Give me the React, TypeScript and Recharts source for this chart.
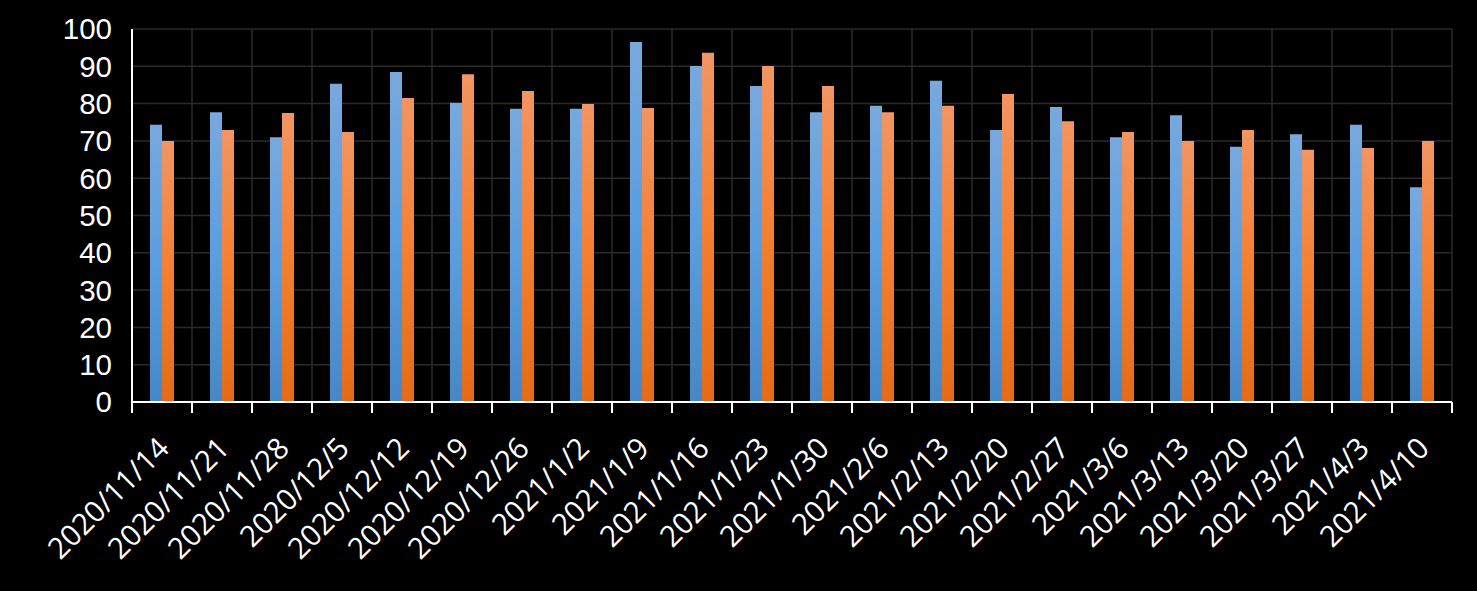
import { BarChart, Bar, XAxis, YAxis, CartesianGrid } from "recharts";

const categories = [
  "2020/11/14", "2020/11/21", "2020/11/28", "2020/12/5", "2020/12/12", "2020/12/19",
  "2020/12/26", "2021/1/2", "2021/1/9", "2021/1/16", "2021/1/23", "2021/1/30",
  "2021/2/6", "2021/2/13", "2021/2/20", "2021/2/27", "2021/3/6", "2021/3/13",
  "2021/3/20", "2021/3/27", "2021/4/3", "2021/4/10",
];
const blueValues = [
  74.3, 77.7, 71.0, 85.3, 88.5, 80.2, 78.6, 78.6, 96.5, 90.1, 84.7,
  77.7, 79.4, 86.1, 72.9, 79.1, 71.0, 76.9, 68.4, 71.8, 74.3, 57.6,
];
const orangeValues = [
  70.0, 72.9, 77.5, 72.4, 81.5, 87.9, 83.4, 79.9, 78.8, 93.6, 90.1,
  84.7, 77.7, 79.4, 82.6, 75.3, 72.4, 70.0, 72.9, 67.6, 68.1, 70.0,
];
const yTicks = [0, 10, 20, 30, 40, 50, 60, 70, 80, 90, 100];

const data = categories.map((name, i) => ({ name, a: blueValues[i], b: orangeValues[i] }));

const FONT = "'Open Sans', sans-serif";

function XTick(props: any) {
  const { x, y, payload, index, visibleTicksCount, width } = props;
  const band = (width || 1320) / visibleTicksCount;
  const lx = x + 9;
  const ly = y + 48;
  return (
    <g>
      <line x1={x - band / 2} y1={y} x2={x - band / 2} y2={y + 11} stroke="#fff" strokeWidth={2} />
      {index === visibleTicksCount - 1 && (
        <line x1={x + band / 2} y1={y} x2={x + band / 2} y2={y + 11} stroke="#fff" strokeWidth={2} />
      )}
      <text
        x={lx}
        y={ly}
        transform={`rotate(-45, ${lx}, ${ly})`}
        textAnchor="end"
        fill="#fff"
        fontSize={29.5}
        fontFamily={FONT}
      >
        {payload.value}
      </text>
    </g>
  );
}

export default function App() {
  return (
    <div style={{ position: "absolute", left: 0, top: 0, width: 1477, height: 591, background: "#000" }}>
      <BarChart
        width={1477}
        height={591}
        data={data}
        margin={{ top: 29, right: 25, left: 0, bottom: 0 }}
        barSize={12}
        barGap={0}
      >
        <defs>
          <linearGradient id="gBlue" x1="0" y1="0" x2="0" y2="1">
            <stop offset="0%" stopColor="#78a9dd" />
            <stop offset="50%" stopColor="#5b9ddf" />
            <stop offset="100%" stopColor="#4787c6" />
          </linearGradient>
          <linearGradient id="gOrange" x1="0" y1="0" x2="0" y2="1">
            <stop offset="0%" stopColor="#f29563" />
            <stop offset="50%" stopColor="#f47f31" />
            <stop offset="100%" stopColor="#e36b17" />
          </linearGradient>
        </defs>
        <CartesianGrid
          stroke="#2a2a2a"
          strokeWidth={1.5}
          verticalCoordinatesGenerator={({ offset }: any) =>
            categories
              .map((_, i) => offset.left + (i * offset.width) / categories.length)
              .concat(offset.left + offset.width)
          }
        />
        <XAxis
          dataKey="name"
          height={189}
          interval={0}
          tickSize={0}
          tickMargin={0}
          tickLine={false}
          axisLine={{ stroke: "#fff", strokeWidth: 2 }}
          tick={<XTick />}
        />
        <YAxis
          width={132}
          domain={[0, 100]}
          ticks={yTicks}
          interval={0}
          tickSize={0}
          tickLine={false}
          tickMargin={20}
          axisLine={{ stroke: "#fff", strokeWidth: 2 }}
          tick={{ fill: "#fff", fontSize: 29.5, fontFamily: "'Liberation Sans', sans-serif" }}
        />
        <Bar dataKey="a" fill="url(#gBlue)" isAnimationActive={false} />
        <Bar dataKey="b" fill="url(#gOrange)" isAnimationActive={false} />
      </BarChart>
    </div>
  );
}
